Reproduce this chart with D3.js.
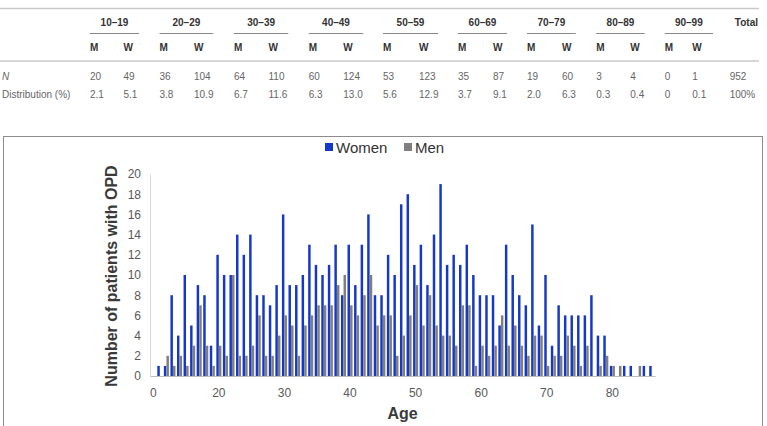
<html>
<head>
    <script src="https://d3js.org/d3.v7.min.js"></script>
    <style>
        body { margin: 0; background: #fff; }
        svg { display: block; font-family: "Liberation Sans", Arial, sans-serif; }
    </style>
</head>

<body>
    <svg id="plot"></svg>

    <script>
        // ---- table values ----
        var ageGroups = ["10–19", "20–29", "30–39", "40–49", "50–59", "60–69", "70–79", "80–89", "90–99"];
        var nMen      = [20, 36, 64, 60, 53, 35, 19, 3, 0];
        var nWomen    = [49, 104, 110, 124, 123, 87, 60, 4, 1];
        var pctMen    = ["2.1", "3.8", "6.7", "6.3", "5.6", "3.7", "2.0", "0.3", "0"];
        var pctWomen  = ["5.1", "10.9", "11.6", "13.0", "12.9", "9.1", "6.3", "0.4", "0.1"];
        var totalN = "952", totalPct = "100%";

        // ---- chart values (patients per year of age) ----
        var ages = [10, 11, 12, 13, 14, 15, 16, 17, 18, 19,
                    20, 21, 22, 23, 24, 25, 26, 27, 28, 29,
                    30, 31, 32, 33, 34, 35, 36, 37, 38, 39,
                    40, 41, 42, 43, 44, 45, 46, 47, 48, 49,
                    50, 51, 52, 53, 54, 55, 56, 57, 58, 59,
                    60, 61, 62, 63, 64, 65, 66, 67, 68, 69,
                    70, 71, 72, 73, 74, 75, 76, 77, 78, 79,
                    80, 81, 82, 83, 84, 85, 86];
        var women = [0, 1, 1, 8, 4, 10, 5, 9, 8, 3,
                     12, 10, 10, 14, 12, 14, 8, 8, 7, 9,
                     16, 9, 9, 10, 13, 11, 10, 11, 13, 8,
                     13, 9, 13, 16, 8, 8, 12, 10, 17, 18,
                     11, 13, 9, 14, 19, 11, 12, 11, 13, 10,
                     8, 8, 8, 5, 13, 10, 8, 7, 15, 5,
                     10, 3, 7, 6, 6, 6, 6, 8, 4, 4,
                     1, 0, 1, 1, 0, 1, 1];
        var men   = [0, 0, 2, 1, 2, 1, 3, 7, 3, 1,
                     3, 2, 10, 2, 2, 3, 6, 2, 2, 4,
                     6, 5, 2, 5, 6, 7, 7, 7, 9, 10,
                     7, 6, 8, 10, 5, 6, 6, 2, 4, 6,
                     9, 5, 8, 5, 4, 4, 3, 7, 7, 1,
                     3, 2, 3, 6, 3, 5, 3, 2, 4, 4,
                     1, 2, 2, 4, 3, 1, 3, 0, 1, 2,
                     1, 1, 0, 0, 1, 0, 0];
        var seriesNames = ["Women", "Men"];
        var seriesColors = ["#1538ca", "#7f7f7f"];
        var xTickAges   = [10, 20, 30, 40, 50, 60, 70, 80];
        var xTickLabels = ["0", "20", "30", "40", "50", "60", "70", "80"];
        var yTicks = [0, 2, 4, 6, 8, 10, 12, 14, 16, 18, 20];

        var W = 767, H = 426;
        var svg = d3.select("#plot").attr("width", W).attr("height", H);

        // ================= table =================
        var colM = [90, 159.5, 234, 308.7, 383, 458, 527, 596.3, 664.7];
        var colW = [123.5, 194, 268.5, 343.3, 419, 493, 562, 630.3, 692.3];
        var lineEnd = [139, 213.3, 288.3, 363.3, 438, 507, 575.7, 644.7, 713];
        var colTotal = 758;

        var tbl = svg.append("g");
        tbl.append("line").attr("x1", 0).attr("x2", 759).attr("y1", 8.5).attr("y2", 8.5)
            .attr("stroke", "#c9c9c9").attr("stroke-width", 1.5);
        tbl.append("line").attr("x1", 0).attr("x2", 759).attr("y1", 61).attr("y2", 61)
            .attr("stroke", "#c9c9c9").attr("stroke-width", 1.5);

        ageGroups.forEach(function(g, i) {
            tbl.append("text").attr("x", (colM[i] + lineEnd[i]) / 2).attr("y", 26)
                .attr("text-anchor", "middle").attr("font-size", 10).attr("font-weight", "bold")
                .attr("fill", "#333").text(g);
            tbl.append("line").attr("x1", colM[i]).attr("x2", lineEnd[i])
                .attr("y1", 33.5).attr("y2", 33.5).attr("stroke", "#8a8a8a").attr("stroke-width", 1);
            tbl.append("text").attr("x", colM[i]).attr("y", 50.5).attr("font-size", 10)
                .attr("font-weight", "bold").attr("fill", "#333").text("M");
            tbl.append("text").attr("x", colW[i]).attr("y", 50.5).attr("font-size", 10)
                .attr("font-weight", "bold").attr("fill", "#333").text("W");
            tbl.append("text").attr("x", colM[i]).attr("y", 79.5).attr("font-size", 10)
                .attr("fill", "#666").text(nMen[i]);
            tbl.append("text").attr("x", colW[i]).attr("y", 79.5).attr("font-size", 10)
                .attr("fill", "#666").text(nWomen[i]);
            tbl.append("text").attr("x", colM[i]).attr("y", 97.5).attr("font-size", 10)
                .attr("fill", "#666").text(pctMen[i]);
            tbl.append("text").attr("x", colW[i]).attr("y", 97.5).attr("font-size", 10)
                .attr("fill", "#666").text(pctWomen[i]);
        });
        tbl.append("text").attr("x", colTotal).attr("y", 26).attr("text-anchor", "end")
            .attr("font-size", 10).attr("font-weight", "bold").attr("fill", "#333").text("Total");
        tbl.append("text").attr("x", 729.7).attr("y", 79.5).attr("font-size", 10)
            .attr("fill", "#666").text(totalN);
        tbl.append("text").attr("x", 729.7).attr("y", 97.5).attr("font-size", 10)
            .attr("fill", "#666").text(totalPct);
        tbl.append("text").attr("x", 2).attr("y", 79.5).attr("font-size", 10)
            .attr("font-style", "italic").attr("fill", "#666").text("N");
        tbl.append("text").attr("x", 2).attr("y", 97.5).attr("font-size", 10)
            .attr("fill", "#666").text("Distribution (%)");

        // ================= chart =================
        svg.append("rect").attr("x", 3.5).attr("y", 136.5).attr("width", 759).attr("height", 300)
            .attr("fill", "#fff").attr("stroke", "#8c8c8c").attr("stroke-width", 1);

        var x0 = d3.scaleBand().domain(ages).range([150, 655])
            .paddingInner(0.2).paddingOuter(0.1);
        var x1 = d3.scaleBand().domain(seriesNames).range([0, x0.bandwidth()]).padding(0.04);
        var y = d3.scaleLinear().domain([0, 20]).range([376, 174]);

        // y axis
        var yAxis = d3.axisLeft(y).tickValues(yTicks).tickSize(0).tickPadding(9);
        var yg = svg.append("g").attr("transform", "translate(150,0)").call(yAxis);
        yg.select(".domain").attr("stroke", "#d9d9d9");
        yg.selectAll("text").attr("font-size", 12).attr("fill", "#595959")
            .attr("font-family", "Liberation Sans, Arial, sans-serif");

        // bars
        var rows = ages.map(function(a, i) { return { age: a, vals: [women[i], men[i]] }; });
        var grp = svg.selectAll(".age")
            .data(rows)
            .enter()
                .append("g").classed("age", true)
                    .attr("transform", function(d) { return "translate(" + x0(d.age) + ",0)"; });
        grp.selectAll("rect")
            .data(function(d) { return d.vals.map(function(v, k) { return { s: seriesNames[k], v: v, c: seriesColors[k] }; }); })
            .enter()
                .append("rect")
                    .attr("x", function(d) { return x1(d.s); })
                    .attr("y", function(d) { return y(d.v); })
                    .attr("width", x1.bandwidth())
                    .attr("height", function(d) { return y(0) - y(d.v); })
                    .attr("fill", function(d) { return d.c; });

        // x axis
        var xAxis = d3.axisBottom(x0).tickValues(xTickAges).tickSize(0).tickPadding(12)
            .tickFormat(function(d) { return xTickLabels[xTickAges.indexOf(d)]; });
        var xg = svg.append("g").attr("transform", "translate(0,376)").call(xAxis);
        xg.select(".domain").attr("stroke", "#bfbfbf");
        xg.selectAll("text").attr("font-size", 12).attr("fill", "#595959")
            .attr("font-family", "Liberation Sans, Arial, sans-serif");

        // axis titles
        svg.append("text").attr("transform", "translate(117,276) rotate(-90)")
            .attr("text-anchor", "middle").attr("font-size", 16).attr("font-weight", "bold")
            .attr("fill", "#3a3a3a").text("Number of patients with OPD");
        svg.append("text").attr("x", 402.5).attr("y", 419)
            .attr("text-anchor", "middle").attr("font-size", 16).attr("font-weight", "bold")
            .attr("fill", "#3a3a3a").text("Age");

        // legend
        var legX = [325, 404];
        seriesNames.forEach(function(s, k) {
            svg.append("rect").attr("x", legX[k]).attr("y", 143).attr("width", 8).attr("height", 8)
                .attr("fill", seriesColors[k]);
            svg.append("text").attr("x", legX[k] + 11).attr("y", 152.5).attr("font-size", 15)
                .attr("fill", "#333").text(s);
        });
    </script>
</body>
</html>
